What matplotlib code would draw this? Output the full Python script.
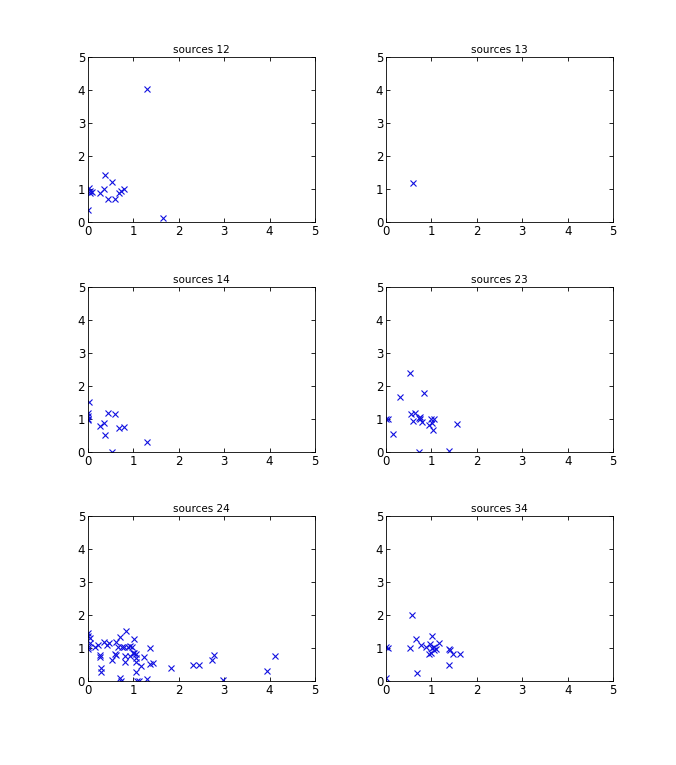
import matplotlib
matplotlib.use("Agg")
import matplotlib.pyplot as plt

# pair labels for each subplot
titles = ["sources 12", "sources 13", "sources 14", "sources 23", "sources 24", "sources 34"]

x12 = [1.30, 1.65, 0.00, 0.02, 0.04, 0.05, 0.10, 0.27, 0.35, 0.38, 0.44, 0.53, 0.60, 0.68, 0.74, 0.79]
y12 = [4.02, 0.12, 0.37, 1.03, 0.93, 0.88, 0.90, 0.88, 1.01, 1.41, 0.68, 1.21, 0.68, 0.86, 0.93, 1.01]

x13 = [0.60]
y13 = [1.18]

x14 = [0.02, 0.00, 0.00, 0.00, 0.00, 0.26, 0.35, 0.38, 0.44, 0.60, 0.68, 0.79, 0.53, 1.30]
y14 = [1.52, 1.18, 1.08, 1.01, 0.98, 0.78, 0.88, 0.53, 1.18, 1.16, 0.73, 0.76, 0.00, 0.31]

x23 = [0.00, 0.05, 0.16, 0.30, 0.53, 0.55, 0.63, 0.60, 0.72, 0.74, 0.75, 0.79, 0.83,
       0.72, 0.94, 0.99, 1.01, 1.03, 1.06, 1.38, 1.57]
y23 = [1.01, 1.01, 0.56, 1.67, 2.40, 1.16, 1.18, 0.93, 1.03, 1.05, 1.01, 0.91, 1.79,
       0.00, 0.83, 1.01, 0.88, 0.68, 1.01, 0.04, 0.86]

x24 = [0.00, 0.01, 0.04, 0.00, 0.01, 0.05, 0.15, 0.22, 0.26, 0.27, 0.28, 0.28, 0.35,
       0.43, 0.46, 0.53, 0.59, 0.61, 0.63, 0.66, 0.71, 0.70, 0.74, 0.76, 0.79, 0.81,
       0.82, 0.84, 0.88, 0.92, 0.93, 0.97, 0.99, 1.01, 1.02, 1.05, 1.07, 1.06, 1.07,
       1.08, 1.13, 1.18, 1.24, 1.30, 1.36, 1.36, 1.43, 1.83, 2.32, 2.45, 2.74, 2.78,
       2.98, 3.95, 4.13]
y24 = [1.45, 1.35, 1.30, 1.04, 0.97, 1.15, 1.02, 1.09, 0.77, 0.72, 0.39, 0.26, 1.17,
       1.10, 1.15, 0.64, 0.82, 1.17, 0.77, 1.04, 1.33, 0.08, 0.01, 1.04, 1.02, 0.56,
       0.76, 1.52, 1.04, 1.06, 0.74, 1.02, 0.84, 1.27, 0.84, 0.82, 0.69, 0.56, 0.26,
       0.01, 0.00, 0.46, 0.72, 0.06, 1.01, 0.51, 0.54, 0.39, 0.49, 0.49, 0.64, 0.79,
       0.02, 0.29, 0.76]

x34 = [0.01, 0.04, 0.01, 0.52, 0.58, 0.65, 0.69, 0.78, 0.89, 0.95, 0.97, 0.99, 1.01,
       1.02, 1.05, 1.06, 1.11, 1.17, 1.38, 1.39, 1.40, 1.48, 1.64]
y34 = [1.04, 1.01, 0.08, 0.99, 2.01, 1.27, 0.25, 1.08, 1.04, 0.82, 1.13, 0.84, 0.99,
       1.35, 1.04, 0.92, 0.97, 1.15, 0.97, 0.49, 0.94, 0.82, 0.80]

xs = [x12, x13, x14, x23, x24, x34]
ys = [y12, y13, y14, y23, y24, y34]

fig = plt.figure(figsize=(6.76, 7.65), dpi=100)
lefts = [0.130, 0.571]
bottoms = [0.710, 0.409, 0.110]
w, h = 0.336, 0.2157

for i in range(6):
    ax = fig.add_axes([lefts[i % 2], bottoms[i // 2], w, h])
    ax.plot(xs[i], ys[i], 'x', color='#1010e0', markersize=4.3, markeredgewidth=0.8)
    ax.set_xlim(0, 5)
    ax.set_ylim(0, 5)
    ax.set_xticks(range(6))
    ax.set_yticks(range(6))
    ax.tick_params(direction='in', top=True, right=True, labelsize=8.5, length=3, width=0.6, pad=2)
    for s in ax.spines.values():
        s.set_linewidth(0.6)
    ax.set_title(titles[i], fontsize=7.5, pad=3)

fig.savefig("out.png", dpi=100)
